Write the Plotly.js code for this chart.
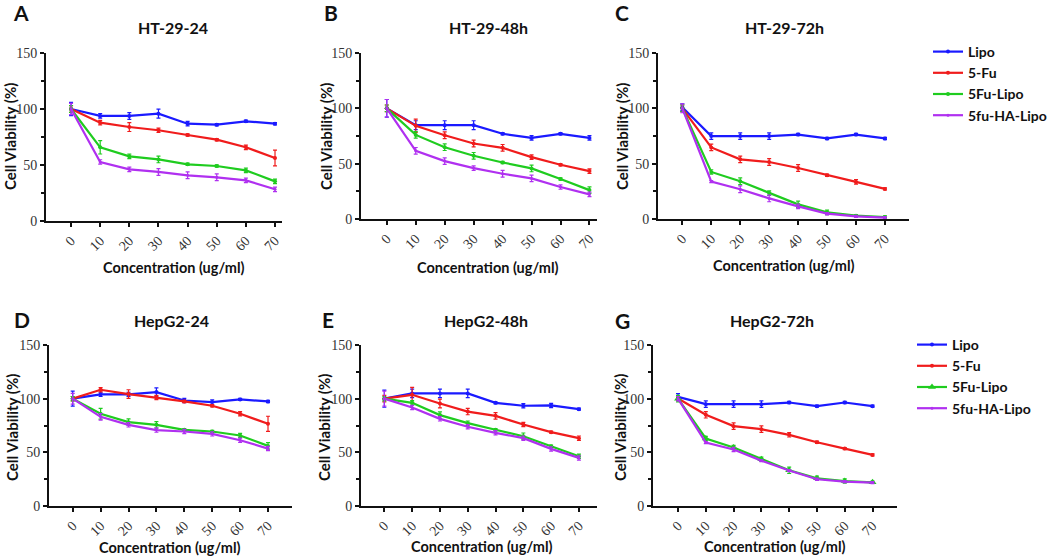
<!DOCTYPE html>
<html>
<head>
<meta charset="utf-8">
<script src="https://cdn.plot.ly/plotly-3.0.1.min.js"></script>
<style>html,body{margin:0;padding:0;background:#fff;}#chart{width:1050px;height:557px;}</style>
</head>
<body>
<div id="chart"></div>
<script>
// ---------- DATA ----------
const conc = [0, 10, 20, 30, 40, 50, 60, 70];
const seriesNames = ["Lipo", "5-Fu", "5Fu-Lipo", "5fu-HA-Lipo"];
const panelTitles = ["HT-29-24", "HT-29-48h", "HT-29-72h", "HepG2-24", "HepG2-48h", "HepG2-72h"];
const panelLetters = ["A", "B", "C", "D", "E", "G"];
const yTickVals = [0, 50, 100, 150];

// Panel A: HT-29-24
const lipoA = [100, 93.8, 93.8, 95.8, 86.9, 86.0, 89.0, 86.9];
const fuA   = [100, 87.8, 83.9, 81.0, 76.8, 72.6, 65.8, 56.3];
const flA   = [100, 65.8, 57.7, 55.0, 50.6, 49.1, 45.2, 35.4];
const haA   = [100, 52.7, 46.1, 43.8, 40.8, 39.0, 36.3, 28.3];
const lipoAerr = [6, 2, 3, 4, 2, 1, 1, 1];
const fuAerr   = [3, 2, 4, 2, 1, 1, 2, 7];
const flAerr   = [3, 6, 2, 3, 1, 1, 2, 2];
const haAerr   = [5, 2, 2, 3, 3, 3, 2, 2];

// Panel B: HT-29-48h
const lipoB = [100, 84.8, 84.8, 84.8, 77.0, 73.3, 77.0, 73.3];
const fuB   = [100, 84.2, 75.7, 68.2, 64.3, 55.9, 49.0, 43.3];
const flB   = [100, 76.0, 64.9, 57.1, 51.1, 45.7, 36.1, 26.1];
const haB   = [100, 61.6, 52.3, 46.0, 40.9, 36.7, 28.9, 22.2];
const lipoBerr = [8, 4, 4, 4, 1, 2, 1, 2];
const fuBerr   = [3, 6, 3, 3, 3, 2, 1, 2];
const flBerr   = [3, 3, 3, 3, 1, 3, 1, 3];
const haBerr   = [8, 3, 3, 2, 3, 3, 2, 2];

// Panel C: HT-29-72h
const lipoC = [101, 74.9, 74.9, 74.9, 76.3, 72.8, 76.3, 72.8];
const fuC   = [100, 64.7, 53.9, 51.5, 46.1, 39.5, 33.5, 27.2];
const flC   = [100, 42.5, 34.1, 23.4, 13.2, 6.0, 3.0, 1.8];
const haC   = [100, 33.8, 26.9, 18.6, 11.4, 4.8, 2.4, 1.2];
const lipoCerr = [3, 3, 3, 3, 1, 1, 1, 1];
const fuCerr   = [3, 3, 3, 3, 3, 1, 2, 1];
const flCerr   = [3, 2, 3, 2, 3, 2, 1, 1];
const haCerr   = [4, 1, 3, 3, 2, 1, 1, 1];

// Panel D: HepG2-24
const lipoD = [100, 104.0, 104.0, 106.1, 98.3, 96.8, 99.3, 97.4];
const fuD   = [100, 108.3, 104.3, 101.1, 97.4, 93.4, 85.9, 76.6];
const flD   = [100, 85.9, 78.1, 75.6, 71.0, 69.4, 65.7, 56.0];
const haD   = [100, 83.1, 75.6, 70.7, 69.4, 67.2, 61.3, 53.5];
const lipoDerr = [7, 2, 2, 4, 2, 2, 1, 1];
const fuDerr   = [2, 2, 4, 2, 1, 1, 2, 7];
const flDerr   = [2, 5, 3, 3, 1, 1, 2, 3];
const haDerr   = [5, 3, 2, 2, 2, 2, 2, 2];

// Panel E: HepG2-48h
const lipoE = [100, 104.9, 104.9, 104.9, 96.1, 93.4, 93.7, 90.2];
const fuE   = [100, 103.6, 95.5, 88.0, 84.0, 75.9, 68.8, 63.2];
const flE   = [100, 96.1, 84.7, 77.2, 71.0, 65.0, 55.7, 46.4];
const haE   = [100, 91.8, 81.2, 73.8, 68.2, 63.2, 53.2, 44.8];
const lipoEerr = [8, 4, 4, 4, 1, 2, 2, 1];
const fuEerr   = [3, 7, 4, 3, 3, 2, 1, 2];
const flEerr   = [2, 2, 3, 2, 1, 3, 1, 2];
const haEerr   = [7, 2, 2, 2, 2, 2, 2, 2];

// Panel G: HepG2-72h
const lipoG = [101.7, 94.9, 94.9, 94.9, 96.4, 93.0, 96.4, 93.0];
const fuG   = [100.2, 85.0, 74.4, 71.6, 66.3, 59.4, 53.5, 47.6];
const flG   = [100, 62.9, 54.5, 43.6, 33.3, 25.8, 23.3, 22.1];
const haG   = [100, 59.1, 52.6, 42.3, 33.0, 24.9, 22.7, 21.8];
const lipoGerr = [3, 3, 3, 3, 1, 1, 1, 1];
const fuGerr   = [2, 3, 3, 3, 2, 1, 1, 1];
const flGerr   = [3, 2, 2, 2, 3, 2, 2, 1];
const haGerr   = [2, 1, 2, 1, 1, 1, 1, 1];

// ---------- STYLE ----------
const colors = ["#1a1aff", "#f01c1c", "#1fcc1f", "#b030f0"];
const W = 1050, H = 557;
const titleFont = "Lato, 'Open Sans', sans-serif";
const tickFont = {family: "Liberation Serif, serif", size: 14, color: "#333"};

// panel geometry in pixels: [xLeft, xRight, yTop, yBottom], x range
const geom = [
  {px: [46, 282, 53, 221],  xr: [-8.6, 72.4]},
  {px: [361, 597, 53, 219], xr: [-8.9, 72.6]},
  {px: [658, 909, 53, 219], xr: [-8.4, 78.3]},
  {px: [49, 292, 345, 506], xr: [-8.5, 78.6]},
  {px: [361, 597, 345, 506], xr: [-8.4, 76.5]},
  {px: [653, 897, 345, 506], xr: [-9.0, 78.8]}
];

const panels = [
  {vals: [lipoA, fuA, flA, haA], errs: [lipoAerr, fuAerr, flAerr, haAerr]},
  {vals: [lipoB, fuB, flB, haB], errs: [lipoBerr, fuBerr, flBerr, haBerr]},
  {vals: [lipoC, fuC, flC, haC], errs: [lipoCerr, fuCerr, flCerr, haCerr]},
  {vals: [lipoD, fuD, flD, haD], errs: [lipoDerr, fuDerr, flDerr, haDerr]},
  {vals: [lipoE, fuE, flE, haE], errs: [lipoEerr, fuEerr, flEerr, haEerr]},
  {vals: [lipoG, fuG, flG, haG], errs: [lipoGerr, fuGerr, flGerr, haGerr]}
];

const traces = [];
const layout = {
  width: W, height: H,
  margin: {l: 0, r: 0, t: 0, b: 0, autoexpand: false},
  paper_bgcolor: "#fff", plot_bgcolor: "rgba(0,0,0,0)",
  showlegend: true,
  annotations: [],
  legend: {
    x: 928 / W, y: 1 - 36 / H, xanchor: "left", yanchor: "top",
    font: {family: titleFont, size: 14, color: "#111", weight: "bold"},
    itemwidth: 30, tracegroupgap: 0, bgcolor: "rgba(0,0,0,0)"
  },
  legend2: {
    x: 912 / W, y: 1 - 329 / H, xanchor: "left", yanchor: "top",
    font: {family: titleFont, size: 14, color: "#111", weight: "bold"},
    itemwidth: 30, tracegroupgap: 0, bgcolor: "rgba(0,0,0,0)"
  }
};

panels.forEach((p, i) => {
  const g = geom[i];
  const n = i + 1;
  const xa = "xaxis" + (n === 1 ? "" : n);
  const ya = "yaxis" + (n === 1 ? "" : n);
  const xref = "x" + (n === 1 ? "" : n);
  const yref = "y" + (n === 1 ? "" : n);
  layout[xa] = {
    domain: [g.px[0] / W, g.px[1] / W], range: g.xr, anchor: yref,
    tickvals: conc, ticktext: conc.map(String), tickangle: -45,
    showline: true, linewidth: 2, linecolor: "#111", mirror: false,
    ticks: "outside", ticklen: 4, tickwidth: 2, tickcolor: "#111",
    showgrid: false, zeroline: false, fixedrange: true, automargin: false,
    tickfont: tickFont
  };
  layout[ya] = {
    domain: [1 - g.px[3] / H, 1 - g.px[2] / H], range: [0, 150], anchor: xref,
    tickvals: yTickVals, ticktext: yTickVals.map(String),
    showline: true, linewidth: 2, linecolor: "#111",
    ticks: "outside", ticklen: 4, tickwidth: 2, tickcolor: "#111",
    minor: {tickvals: [25, 75, 125], ticks: "outside", ticklen: 3, tickwidth: 2, tickcolor: "#111"},
    showgrid: false, zeroline: false, fixedrange: true, automargin: false,
    tickfont: tickFont
  };
  p.vals.forEach((v, s) => {
    const isLegendTop = i === 2, isLegendBot = i === 5;
    let symbol = "circle", msize = s === 3 ? 3 : 4;
    if (i === 5 && s === 2) { symbol = "triangle-up"; msize = 7; }
    traces.push({
      type: "scatter", mode: "lines+markers",
      x: conc, y: v, xaxis: xref, yaxis: yref,
      name: seriesNames[s],
      showlegend: isLegendTop || isLegendBot,
      legend: isLegendBot ? "legend2" : "legend",
      line: {color: colors[s], width: 2.2},
      marker: {color: colors[s], size: msize, symbol: symbol},
      error_y: {type: "data", array: p.errs[s], visible: true, color: colors[s], thickness: 1.2, width: 2},
      hoverinfo: "x+y+name"
    });
  });
});

// text positions (pixels)
const titlePos = [[173, 27], [488, 27], [784, 27], [171, 320], [486, 320], [772, 320]];
const letterPos = [[21, 12], [331, 12], [622, 12], [22, 319], [328, 319], [622, 320]];
const xTitlePos = [[174, 267], [488, 267], [784, 265], [170, 547], [482, 546], [775, 546]];
const yTitlePos = [[10, 137], [326, 137], [622, 137], [12, 428], [324, 428], [620, 428]];

function ann(text, px, py, size, extra) {
  return Object.assign({
    text: text, xref: "paper", yref: "paper", x: px / W, y: 1 - py / H,
    xanchor: "center", yanchor: "middle", showarrow: false,
    font: {family: titleFont, size: size, color: "#111", weight: "bold"}
  }, extra || {});
}

panelTitles.forEach((t, i) => {
  layout.annotations.push(ann(t, titlePos[i][0], titlePos[i][1], 16));
  layout.annotations.push(ann(panelLetters[i], letterPos[i][0], letterPos[i][1], 21));
  layout.annotations.push(ann("Concentration (ug/ml)", xTitlePos[i][0], xTitlePos[i][1], 14.5));
  layout.annotations.push(ann("Cell Viability (%)", yTitlePos[i][0], yTitlePos[i][1], 15, {textangle: -90}));
});

Plotly.newPlot("chart", traces, layout, {displayModeBar: false, staticPlot: true});
</script>
</body>
</html>
